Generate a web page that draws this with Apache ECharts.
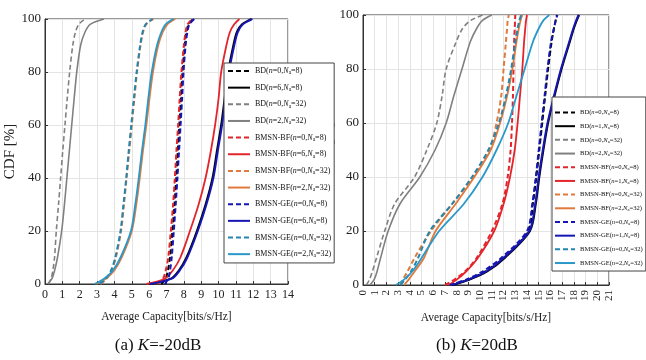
<!DOCTYPE html>
<html><head><meta charset="utf-8">
<script src="https://cdn.jsdelivr.net/npm/echarts@6/dist/echarts.min.js"></script>
<style>html,body{margin:0;padding:0;background:#fff}#c{width:646px;height:360px}</style>
</head><body><div id="c"></div>
<script>
// CDF levels (%) shared by every curve
const cdfLevels = [0, 2, 5, 10, 20, 30, 40, 50, 60, 70, 80, 90, 95, 98, 100];

// Legend labels
const labelsA = ['BD(n=0,Na=8)','BD(n=6,Na=8)','BD(n=0,Na=32)','BD(n=2,Na=32)',
  'BMSN-BF(n=0,Na=8)','BMSN-BF(n=6,Na=8)','BMSN-BF(n=0,Na=32)','BMSN-BF(n=2,Na=32)',
  'BMSN-GE(n=0,Na=8)','BMSN-GE(n=6,Na=8)','BMSN-GE(n=0,Na=32)','BMSN-GE(n=2,Na=32)'];
const labelsB = ['BD(n=0,Na=8)','BD(n=1,Na=8)','BD(n=0,Na=32)','BD(n=2,Na=32)',
  'BMSN-BF(n=0,Na=8)','BMSN-BF(n=1,Na=8)','BMSN-BF(n=0,Na=32)','BMSN-BF(n=2,Na=32)',
  'BMSN-GE(n=0,Na=8)','BMSN-GE(n=1,Na=8)','BMSN-GE(n=0,Na=32)','BMSN-GE(n=2,Na=32)'];

// (a) K=-20dB : capacity (x) at each CDF level
const a_BD_n0_Na8   = [6.7, 6.95, 7.08, 7.2, 7.34, 7.46, 7.56, 7.65, 7.74, 7.83, 7.92, 8.05, 8.15, 8.27, 8.55];
const a_BD_n6_Na8   = [6.0, 7.25, 7.7, 8.15, 8.75, 9.25, 9.65, 9.9, 10.15, 10.35, 10.55, 10.85, 11.05, 11.35, 11.9];
const a_BD_n0_Na32  = [0.2, 0.35, 0.45, 0.55, 0.65, 0.78, 0.9, 1.02, 1.15, 1.28, 1.42, 1.6, 1.75, 1.95, 2.3];
const a_BD_n2_Na32  = [0.15, 0.4, 0.55, 0.72, 0.96, 1.12, 1.26, 1.4, 1.54, 1.68, 1.83, 2.05, 2.3, 2.6, 3.4];
const a_BF_n0_Na8   = [6.45, 6.8, 6.95, 7.1, 7.25, 7.38, 7.48, 7.57, 7.67, 7.76, 7.86, 8.0, 8.1, 8.22, 8.5];
const a_BF_n6_Na8   = [5.85, 6.9, 7.35, 7.8, 8.35, 8.85, 9.25, 9.55, 9.8, 10.0, 10.15, 10.45, 10.65, 10.9, 11.2];
const a_BF_n0_Na32  = [3.2, 3.55, 3.83, 4.08, 4.38, 4.55, 4.7, 4.85, 5.0, 5.15, 5.3, 5.5, 5.65, 5.83, 6.25];
const a_BF_n2_Na32  = [2.95, 3.5, 3.98, 4.42, 5.0, 5.26, 5.46, 5.64, 5.84, 6.02, 6.22, 6.52, 6.78, 7.05, 7.5];
const a_GE_n0_Na8   = [6.9, 7.1, 7.2, 7.3, 7.42, 7.53, 7.63, 7.72, 7.81, 7.9, 7.98, 8.1, 8.2, 8.32, 8.6];
const a_GE_n6_Na8   = [6.05, 7.3, 7.75, 8.2, 8.8, 9.3, 9.7, 9.95, 10.2, 10.4, 10.6, 10.9, 11.1, 11.4, 11.95];
const a_GE_n0_Na32  = [3.15, 3.5, 3.8, 4.05, 4.35, 4.52, 4.68, 4.82, 4.97, 5.12, 5.28, 5.48, 5.62, 5.8, 6.2];
const a_GE_n2_Na32  = [2.85, 3.4, 3.9, 4.35, 4.95, 5.2, 5.4, 5.58, 5.78, 5.95, 6.15, 6.45, 6.7, 6.95, 7.4];

// (b) K=20dB
const b_BD_n0_Na8   = [7.6, 9.0, 10.4, 12.0, 14.1, 14.5, 14.8, 15.05, 15.3, 15.55, 15.8, 16.1, 16.3, 16.45, 16.55];
const b_BD_n1_Na8   = [7.7, 9.1, 10.6, 12.1, 14.25, 14.75, 15.05, 15.4, 15.8, 16.35, 16.95, 17.65, 18.0, 18.25, 18.45];
const b_BD_n0_Na32  = [0.3, 0.55, 0.8, 1.15, 1.85, 2.7, 4.4, 5.45, 6.3, 6.75, 7.1, 7.95, 8.5, 9.2, 10.2];
const b_BD_n2_Na32  = [0.6, 0.95, 1.2, 1.5, 2.15, 3.15, 4.85, 6.15, 7.1, 7.75, 8.45, 9.15, 9.7, 10.2, 11.0];
const b_BF_n0_Na8   = [7.0, 7.8, 8.7, 9.7, 11.0, 11.9, 12.35, 12.6, 12.72, 12.8, 12.85, 12.9, 12.95, 12.98, 13.0];
const b_BF_n1_Na8   = [7.3, 8.0, 8.8, 9.8, 11.2, 12.0, 12.55, 12.95, 13.2, 13.4, 13.6, 13.75, 13.85, 13.92, 14.0];
const b_BF_n0_Na32  = [3.2, 3.4, 3.8, 4.4, 5.8, 7.6, 9.4, 10.8, 11.4, 11.8, 12.0, 12.2, 12.3, 12.35, 12.45];
const b_BF_n2_Na32  = [3.5, 3.9, 4.4, 5.2, 6.2, 7.9, 9.5, 10.9, 11.7, 12.3, 12.75, 13.1, 13.3, 13.45, 13.6];
const b_GE_n0_Na8   = [7.4, 8.8, 10.2, 11.8, 14.0, 14.45, 14.75, 15.0, 15.25, 15.5, 15.75, 16.05, 16.3, 16.45, 16.6];
const b_GE_n1_Na8   = [7.6, 9.0, 10.5, 12.0, 14.2, 14.7, 15.0, 15.35, 15.75, 16.3, 16.9, 17.6, 17.95, 18.2, 18.4];
const b_GE_n0_Na32  = [3.2, 3.6, 4.1, 4.7, 5.7, 7.6, 9.3, 10.7, 11.6, 12.2, 12.65, 13.0, 13.2, 13.35, 13.5];
const b_GE_n2_Na32  = [2.8, 3.5, 4.2, 5.0, 6.5, 8.6, 10.2, 11.4, 12.4, 13.1, 13.8, 14.5, 15.0, 15.4, 15.9];

const seriesA = [a_BD_n0_Na8, a_BD_n6_Na8, a_BD_n0_Na32, a_BD_n2_Na32, a_BF_n0_Na8, a_BF_n6_Na8, a_BF_n0_Na32, a_BF_n2_Na32, a_GE_n0_Na8, a_GE_n6_Na8, a_GE_n0_Na32, a_GE_n2_Na32];
const seriesB = [b_BD_n0_Na8, b_BD_n1_Na8, b_BD_n0_Na32, b_BD_n2_Na32, b_BF_n0_Na8, b_BF_n1_Na8, b_BF_n0_Na32, b_BF_n2_Na32, b_GE_n0_Na8, b_GE_n1_Na8, b_GE_n0_Na32, b_GE_n2_Na32];

const colors = ['#000000','#000000','#808080','#808080','#e3242b','#e3242b','#e07a3c','#e07a3c','#1616b4','#1616b4','#2486b0','#2a98c8'];
const dashed = [true,false,true,false,true,false,true,false,true,false,true,false];
const widths = [2,2,1.6,1.6,2,1.8,2,1.8,2,2,2,1.8];

const FONT = '"Liberation Serif", "Times New Roman", serif';
const SUFFIX = '\u200b';

function richLabel(name){
  name = name.replace(SUFFIX,'');
  const m = name.match(/^(.*)\(n=(\d+),Na=(\d+)\)$/);
  if(!m) return name;
  return '{t|' + m[1] + '(}{i|n}{t|=' + m[2] + ',}{i|N}{s|a}{t|=' + m[3] + ')}';
}
function legendRich(fs){
  return {
    t:{fontFamily:FONT,fontSize:fs,color:'#111'},
    i:{fontFamily:FONT,fontSize:fs,fontStyle:'italic',color:'#111'},
    s:{fontFamily:FONT,fontSize:fs*0.7,color:'#111',verticalAlign:'bottom',padding:[fs*0.45,0,0,0]}
  };
}

function buildSeries(arrs, labels, axisIdx, suffix){
  return arrs.map((xs,k)=>({
    name: labels[k] + suffix,
    type:'line', xAxisIndex:axisIdx, yAxisIndex:axisIdx,
    data: cdfLevels.map((y,i)=>[xs[i], y]),
    symbol:'none', showSymbol:false, smooth:0.3,
    lineStyle:{color:colors[k], width:widths[k], type: dashed[k] ? [5,3] : 'solid'},
    itemStyle:{color:colors[k]},
    silent:true, animation:false
  }));
}

function xAxisCfg(gi, max, rotate, fs){
  return {
    type:'value', gridIndex:gi, min:0, max:max, interval:1,
    name:'Average Capacity[bits/s/Hz]', nameLocation:'middle', nameGap: 27,
    nameTextStyle:{fontFamily:FONT,fontSize:11.5,color:'#222'},
    axisLine:{show:true,lineStyle:{color:'#333',width:1}},
    axisTick:{show:true,inside:true,length:3,lineStyle:{color:'#333'}},
    axisLabel:{fontFamily:FONT,fontSize:fs,color:'#222',rotate:rotate,margin:5,showMinLabel:true,showMaxLabel:true,hideOverlap:false,interval:0},
    splitLine:{show:true,lineStyle:{color:'#e4e4e4',width:1}}
  };
}
function yAxisCfg(gi, gap){
  return {
    type:'value', gridIndex:gi, min:0, max:100, interval:20,
    name:'CDF [%]', nameLocation:'middle', nameGap:gap, nameRotate:90,
    nameTextStyle:{fontFamily:FONT,fontSize:15,color:'#222'},
    axisLine:{show:true,lineStyle:{color:'#333',width:1}},
    axisTick:{show:true,inside:true,length:3,lineStyle:{color:'#333'}},
    axisLabel:{fontFamily:FONT,fontSize:13,color:'#222',margin:4},
    splitLine:{show:true,lineStyle:{color:'#e4e4e4',width:1}}
  };
}

const chart = echarts.init(document.getElementById('c'), null, {renderer:'canvas'});
chart.setOption({
  animation:false,
  backgroundColor:'#fff',
  grid:[
    {left:45, top:19, width:243, height:265, show:true, borderColor:'#333', borderWidth:1, backgroundColor:'transparent'},
    {left:363, top:15, width:246, height:270, show:true, borderColor:'#333', borderWidth:1, backgroundColor:'transparent'}
  ],
  xAxis:[ xAxisCfg(0,14,0,12), xAxisCfg(1,21,90,11) ],
  yAxis:[ yAxisCfg(0,20), yAxisCfg(1,17) ],
  legend:[
    {data:labelsA, left:224, top:63, orient:'vertical', itemWidth:22, itemHeight:10, itemGap:7.85,
     padding:[4,3,4,3], backgroundColor:'#fff', borderColor:'#444', borderWidth:1, borderRadius:0,
     itemStyle:{opacity:0},
     formatter:richLabel, textStyle:{rich:legendRich(8)}, selectedMode:false},
    {data:labelsB.map(s=>s+SUFFIX), left:552, top:97, orient:'vertical', itemWidth:20, itemHeight:8, itemGap:6.2,
     padding:[12,3,4,2], backgroundColor:'#fff', borderColor:'#444', borderWidth:1, borderRadius:0,
     itemStyle:{opacity:0},
     formatter:richLabel, textStyle:{rich:legendRich(6.6)}, selectedMode:false}
  ],
  series: buildSeries(seriesA, labelsA, 0, '').concat(buildSeries(seriesB, labelsB, 1, SUFFIX)),
  graphic:[
    {type:'text', x:158, y:346, style:{text:'(a) {i|K}=-20dB', align:'center', verticalAlign:'middle',
      fontFamily:FONT, fontSize:17, fill:'#111', rich:{i:{fontFamily:FONT,fontSize:17,fontStyle:'italic',fill:'#111'}}}},
    {type:'text', x:477, y:346, style:{text:'(b) {i|K}=20dB', align:'center', verticalAlign:'middle',
      fontFamily:FONT, fontSize:17, fill:'#111', rich:{i:{fontFamily:FONT,fontSize:17,fontStyle:'italic',fill:'#111'}}}}
  ]
});
</script></body></html>
